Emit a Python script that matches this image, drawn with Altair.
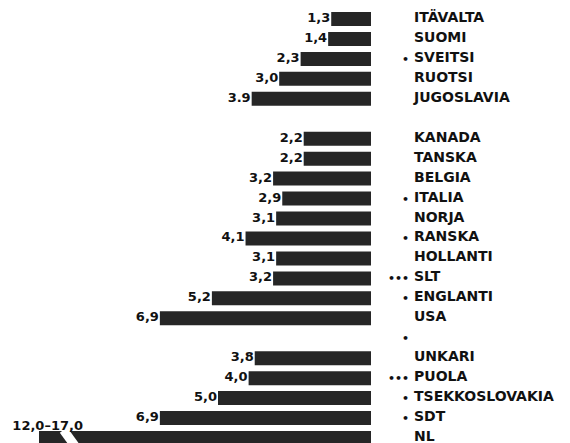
import altair as alt
import pandas as pd

rows = ["ITÄVALTA", "SUOMI", "SVEITSI", "RUOTSI", "JUGOSLAVIA", "_gap1",
        "KANADA", "TANSKA", "BELGIA", "ITALIA", "NORJA", "RANSKA", "HOLLANTI",
        "SLT", "ENGLANTI", "USA", "_gap2",
        "UNKARI", "PUOLA", "TSEKKOSLOVAKIA", "SDT", "NL"]
names = ["ITÄVALTA", "SUOMI", "SVEITSI", "RUOTSI", "JUGOSLAVIA", "",
         "KANADA", "TANSKA", "BELGIA", "ITALIA", "NORJA", "RANSKA", "HOLLANTI",
         "SLT", "ENGLANTI", "USA", "",
         "UNKARI", "PUOLA", "TSEKKOSLOVAKIA", "SDT", "NL"]
markers = ["", "", "•", "", "", "",
           "", "", "", "•", "", "•", "",
           "•••", "•", "", "•",
           "", "•••", "•", "•", ""]
values = [1.3, 1.4, 2.3, 3.0, 3.9, None,
          2.2, 2.2, 3.2, 2.9, 3.1, 4.1, 3.1, 3.2, 5.2, 6.9, None,
          3.8, 4.0, 5.0, 6.9, 10.85]
value_labels = ["1,3", "1,4", "2,3", "3,0", "3.9", "",
                "2,2", "2,2", "3,2", "2,9", "3,1", "4,1", "3,1", "3,2", "5,2", "6,9", "",
                "3,8", "4,0", "5,0", "6,9", "12,0–17,0"]

df = pd.DataFrame({"row": rows, "name": names, "marker": markers,
                   "value": values, "label": value_labels})

FONT = "DejaVu Sans"
W, H = 554, 441

xscale = alt.Scale(domain=[-6.242, 11.863], reverse=True, zero=False, nice=False)
yscale = alt.Scale(domain=rows, paddingInner=0.298, paddingOuter=0.2)
Y = alt.Y("row:N", scale=yscale, axis=None, sort=None)

base = alt.Chart(df)

bars = base.mark_bar(color="#262626").encode(
    x=alt.X("value:Q", scale=xscale, axis=None),
    x2=alt.datum(0),
    y=Y,
)

vlabels = base.transform_filter("datum.row != 'NL' && datum.value != null").mark_text(
    align="right", baseline="middle", dx=-1, dy=-1, font=FONT, fontSize=13,
    fontWeight="bold", color="#111111"
).encode(x=alt.X("value:Q", scale=xscale), y=Y, text="label:N")

nl_label = base.transform_filter("datum.row == 'NL'").mark_text(
    align="right", baseline="middle", dy=-12, font=FONT, fontSize=13,
    fontWeight="bold", color="#111111"
).encode(x=alt.value(75), y=Y, text="label:N")

name_text = base.mark_text(
    align="left", baseline="middle", dy=-1, font=FONT, fontSize=14,
    fontWeight="bold", color="#111111"
).encode(x=alt.value(406), y=Y, text="name:N")

marker_text = base.mark_text(
    align="right", baseline="middle", dy=1, font=FONT, fontSize=11,
    fontWeight="bold", color="#111111"
).encode(x=alt.value(401), y=Y, text="marker:N")

brk = alt.Chart(pd.DataFrame({"k": [0]})).mark_rule(
    color="white", strokeWidth=9, strokeCap="butt"
).encode(
    x=alt.datum(10.05, scale=xscale), x2=alt.datum(9.6),
    y=alt.value(422), y2=alt.value(441)
)

chart = alt.layer(bars, brk, vlabels, nl_label, name_text, marker_text).properties(
    width=W, height=H, padding=0
).configure_view(stroke=None)

chart.save("out.html", embed_options={"renderer": "svg", "actions": False})
